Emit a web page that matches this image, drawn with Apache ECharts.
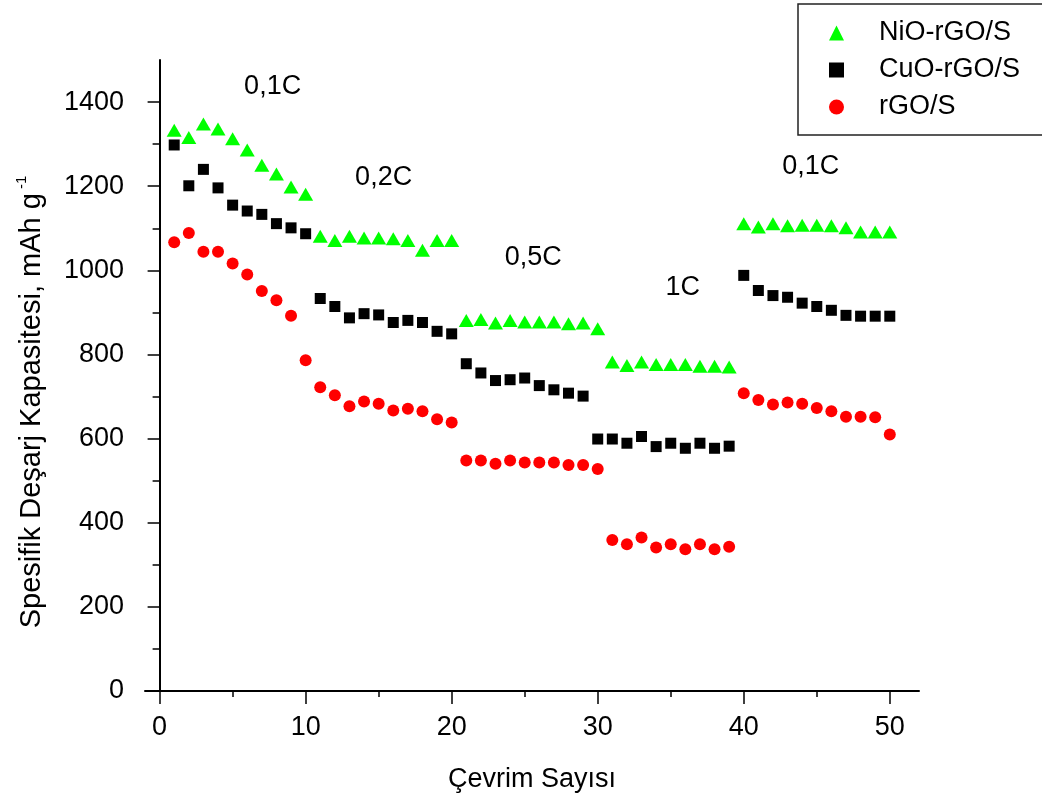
<!DOCTYPE html>
<html>
<head>
<meta charset="utf-8">
<script src="https://cdn.jsdelivr.net/npm/echarts@6/dist/echarts.min.js"></script>
<style>
html,body{margin:0;padding:0;background:#fff;}
#main{width:1042px;height:801px;}
</style>
</head>
<body>
<div id="main"></div>
<script>
var cycles=[1,2,3,4,5,6,7,8,9,10,11,12,13,14,15,16,17,18,19,20,21,22,23,24,25,26,27,28,29,30,31,32,33,34,35,36,37,38,39,40,41,42,43,44,45,46,47,48,49,50];

var nio=[1333,1316,1348,1336,1313,1286,1250,1229,1198,1181,
	1081,1071,1081,1077,1077,1075,1071,1048,1071,1071,
	881,883,875,881,877,877,877,873,875,861,
	782,774,782,776,776,776,772,772,770,
	1111,1103,1111,1106,1107,1107,1106,1101,1091,1091,1091];

var cuo=[1298,1201,1240,1196,1155,1141,1133,1111,1101,1087,
	933,914,887,897,894,876,881,876,855,849,
	778,756,738,740,744,726,716,708,701,
	599,599,589,605,581,589,577,589,577,582,
	988,952,940,936,922,914,905,893,891,891,891];

var rgo=[1067,1089,1044,1044,1016,990,951,929,892,786,
	722,703,677,688,683,667,671,665,646,638,
	548,548,540,548,543,543,543,537,537,528,
	359,349,365,341,349,337,349,337,343,
	708,692,681,686,683,673,665,652,652,651,610];

var seriesNames=['NiO-rGO/S','CuO-rGO/S','rGO/S'];

// rate labels over each block (data coords)
var rateX=[7.74,15.34,25.58,35.82,44.59];
var rateY=[1438,1221,1030,958,1246];
var rateText=['0,1C','0,2C','0,5C','1C','0,1C'];

var xMajor=[0,10,20,30,40,50], xMinor=[5,15,25,35,45];
var yMajor=[0,200,400,600,800,1000,1200,1400], yMinor=[100,300,500,700,900,1100,1300];

var FONT="'Liberation Sans', Arial, sans-serif";

function pairs(ys){
	var a=[];
	for(var i=0;i<ys.length;i++){a.push([cycles[i],ys[i]])}
	return a;
}
var rateData=[];
for(var i=0;i<rateX.length;i++){rateData.push([rateX[i],rateY[i],rateText[i]])}

var chart=echarts.init(document.getElementById('main'),null,{renderer:'canvas'});

var axisTxt={color:'#000',fontSize:27,fontFamily:FONT};
function plain(v){return String(v)}

chart.setOption({
	animation:false,
	backgroundColor:'#fff',
	grid:{left:145,right:123,top:60,bottom:110,containLabel:false},
	legend:{
		data:seriesNames,
		orient:'vertical',
		left:798,top:4,
		padding:[14,60,13,31],
		itemWidth:15,itemHeight:15,itemGap:7,
		symbolKeepAspect:true,
		borderColor:'#222',borderWidth:1.5,
		textStyle:{color:'#000',fontSize:27,fontFamily:FONT,lineHeight:30,padding:[0,0,0,30]}
	},
	xAxis:[{
		type:'value',min:-1,max:52,
		axisLine:{show:true,lineStyle:{color:'#000',width:2}},
		axisTick:{show:true,length:13,customValues:xMajor,lineStyle:{color:'#000',width:1.5}},
		axisLabel:Object.assign({margin:23,customValues:xMajor,formatter:plain},axisTxt),
		splitLine:{show:false},
		name:'Çevrim Sayısı',nameLocation:'middle',nameGap:75,
		nameTextStyle:axisTxt
	},{
		type:'value',min:-1,max:52,position:'bottom',
		axisLine:{show:false},
		axisTick:{show:true,length:6,customValues:xMinor,lineStyle:{color:'#000',width:1.5}},
		axisLabel:{show:false},
		splitLine:{show:false}
	}],
	yAxis:[{
		type:'value',min:0,max:1500,
		axisLine:{show:true,lineStyle:{color:'#000',width:2}},
		axisTick:{show:true,length:12,customValues:yMajor,lineStyle:{color:'#000',width:1.5}},
		axisLabel:Object.assign({margin:21,customValues:yMajor,formatter:plain},axisTxt),
		splitLine:{show:false}
	},{
		type:'value',min:0,max:1500,position:'left',
		axisLine:{show:false},
		axisTick:{show:true,length:7,customValues:yMinor,lineStyle:{color:'#000',width:1.5}},
		axisLabel:{show:false},
		splitLine:{show:false}
	}],
	graphic:[{
		type:'text',x:32,y:402,rotation:Math.PI/2,silent:true,
		style:{
			text:'{a|Spesifik Deşarj Kapasitesi, mAh g}{b| -1}',
			align:'center',verticalAlign:'middle',
			rich:{
				a:{fontSize:29,fontFamily:FONT,fill:'#000',lineHeight:36},
				b:{fontSize:15,fontFamily:FONT,fill:'#000',verticalAlign:'top',lineHeight:16}
			}
		}
	}],
	series:[{
		name:seriesNames[0],type:'scatter',symbol:'triangle',symbolSize:[15,13],
		itemStyle:{color:'#00ff00',opacity:1},
		data:pairs(nio)
	},{
		name:seriesNames[1],type:'scatter',symbol:'rect',symbolSize:11,
		itemStyle:{color:'#000',opacity:1},
		data:pairs(cuo)
	},{
		name:seriesNames[2],type:'scatter',symbol:'circle',symbolSize:12,
		itemStyle:{color:'#ff0000',opacity:1},
		data:pairs(rgo)
	},{
		name:'rate',type:'scatter',symbolSize:0,silent:true,
		itemStyle:{opacity:1,color:'#000'},
		label:{show:true,position:'inside',color:'#000',opacity:1,fontSize:27,fontFamily:FONT,
			formatter:function(p){return p.value[2]}},
		data:rateData
	}]
});
</script>
</body>
</html>
